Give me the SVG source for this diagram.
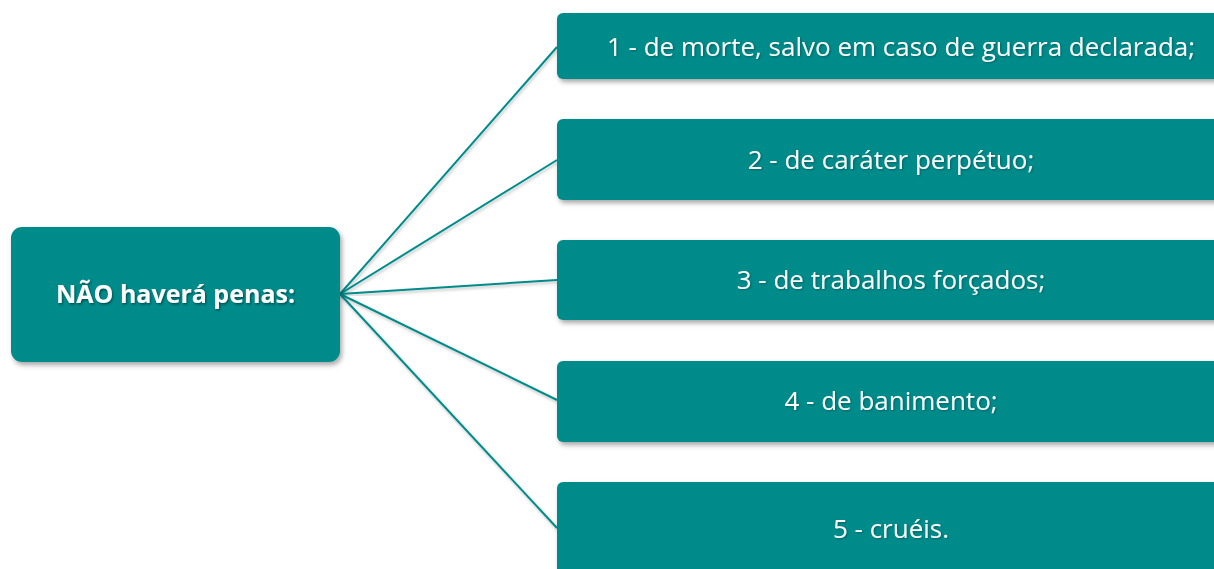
<svg xmlns="http://www.w3.org/2000/svg" width="1214" height="569" viewBox="0 0 1214 569">
<defs>
<filter id="sh" x="-10%" y="-20%" width="120%" height="150%">
<feDropShadow dx="2" dy="3" stdDeviation="2.5" flood-color="#000" flood-opacity="0.35"/>
</filter>
<filter id="lsh" x="-10%" y="-10%" width="120%" height="120%">
<feDropShadow dx="1" dy="2" stdDeviation="1.5" flood-color="#000" flood-opacity="0.25"/>
</filter>
<filter id="tsh" x="-10%" y="-30%" width="120%" height="160%">
<feDropShadow dx="1" dy="1.5" stdDeviation="1" flood-color="#000" flood-opacity="0.45"/>
</filter>
<filter id="tsh2" x="-10%" y="-30%" width="120%" height="160%">
<feDropShadow dx="1" dy="1" stdDeviation="0.8" flood-color="#000" flood-opacity="0.3"/>
</filter>
</defs>
<style>
.box{fill:#008B8B;filter:url(#sh)}
.lbl{font-family:"Open Sans","Noto Sans","DejaVu Sans",sans-serif;font-size:26px;fill:#fff;text-anchor:middle;filter:url(#tsh2)}
.main{font-family:"Open Sans","Noto Sans","DejaVu Sans",sans-serif;font-size:25px;font-weight:bold;fill:#fff;text-anchor:middle;filter:url(#tsh)}
.edge{stroke:#008B8B;stroke-width:2;fill:none;filter:url(#lsh)}
</style>
<rect width="1214" height="569" fill="#fff"/>
<g id="connectors">
<line class="edge" x1="340" y1="294" x2="557" y2="47"/>
<line class="edge" x1="340" y1="294" x2="557" y2="160"/>
<line class="edge" x1="340" y1="294" x2="557" y2="280"/>
<line class="edge" x1="340" y1="294" x2="557" y2="400"/>
<line class="edge" x1="340" y1="294" x2="557" y2="528"/>
</g>
<g id="root">
<rect class="box" x="11" y="227" width="329" height="135" rx="11"/>
<text class="main" x="175.5" y="303">NÃO haverá penas:</text>
</g>
<g id="n1">
<rect class="box" x="557" y="13" width="690" height="66" rx="6"/>
<text class="lbl" x="901" y="56">1 - de morte, salvo em caso de guerra declarada;</text>
</g>
<g id="n2">
<rect class="box" x="557" y="119" width="690" height="81" rx="6"/>
<text class="lbl" x="891" y="169">2 - de caráter perpétuo;</text>
</g>
<g id="n3">
<rect class="box" x="557" y="240" width="690" height="80" rx="6"/>
<text class="lbl" x="891" y="289">3 - de trabalhos forçados;</text>
</g>
<g id="n4">
<rect class="box" x="557" y="361" width="690" height="81" rx="6"/>
<text class="lbl" x="891" y="410">4 - de banimento;</text>
</g>
<g id="n5">
<rect class="box" x="557" y="482" width="690" height="110" rx="6"/>
<text class="lbl" x="891" y="538">5 - cruéis.</text>
</g>
</svg>
